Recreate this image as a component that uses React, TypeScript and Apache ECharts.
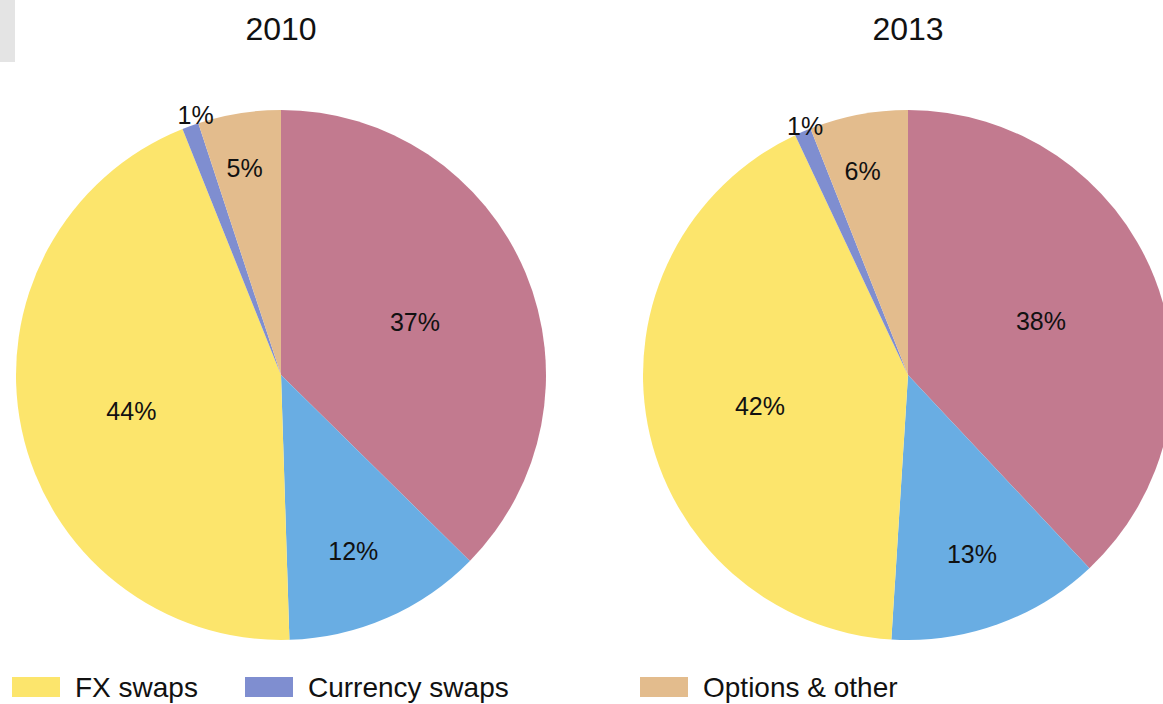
import React, { useEffect, useRef } from "react";
import * as echarts from "echarts";

const categories = ["Spot", "Outright forwards", "FX swaps", "Currency swaps", "Options & other"];
const values2010 = [37, 12, 44, 1, 5];
const values2013 = [38, 13, 42, 1, 6];
const years = ["2010", "2013"];
const legendItems = ["FX swaps", "Currency swaps", "Options & other"];

const colors = ["#C27A8F", "#69ADE3", "#FCE56C", "#7F8ED0", "#E3BC8D"];
const labelOffsets2010 = [[9, -1], [18, 52], [-17, 8], [-39, -133], [-15, -73]];
const labelOffsets2013 = [[7, -4], [18, 52], [-15, 6], [-49, -125], [-20, -71]];

const FONT = "'Liberation Sans', Arial, sans-serif";

function buildSeries(values: number[], offsets: number[][], center: number[], radius: number) {
  return {
    type: "pie",
    center,
    radius,
    startAngle: 90,
    clockwise: true,
    silent: true,
    emphasis: { disabled: true },
    itemStyle: { borderWidth: 0 },
    label: {
      show: true,
      position: "inside",
      formatter: "{c}%",
      color: "#111",
      fontSize: 25,
      fontFamily: FONT,
    },
    labelLine: { show: false },
    data: values.map((v, i) => ({
      name: categories[i],
      value: v,
      itemStyle: { color: colors[i] },
      label: { offset: offsets[i] },
    })),
  };
}

export default function App() {
  const ref = useRef<HTMLDivElement>(null);
  useEffect(() => {
    document.body.style.margin = "0";
    const chart = echarts.init(ref.current!, null, { renderer: "svg" });
    const legendLefts = [12, 245, 640];
    const titleStyle = { fontFamily: FONT, fontSize: 32, fontWeight: "normal", color: "#111" };
    chart.setOption({
      animation: false,
      backgroundColor: "#ffffff",
      title: [
        { text: years[0], left: 281, top: 13, textAlign: "center", padding: 0, textStyle: titleStyle },
        { text: years[1], left: 908, top: 13, textAlign: "center", padding: 0, textStyle: titleStyle },
      ],
      legend: legendItems.map((name, i) => ({
        data: [name],
        left: legendLefts[i],
        top: 672,
        padding: 0,
        icon: "rect",
        itemWidth: 48,
        itemHeight: 20,
        selectedMode: false,
        textStyle: {
          fontFamily: FONT,
          fontSize: 28,
          lineHeight: 30,
          color: "#111",
          padding: [0, 0, 0, 10],
        },
      })),
      graphic: [
        { type: "rect", left: 0, top: 0, shape: { width: 15, height: 62 }, style: { fill: "#e4e4e4" } },
      ],
      series: [
        buildSeries(values2010, labelOffsets2010, [281, 375], 265),
        buildSeries(values2013, labelOffsets2013, [908, 375], 265),
      ],
    });
    return () => chart.dispose();
  }, []);
  return <div ref={ref} style={{ width: 1163, height: 704 }} />;
}
